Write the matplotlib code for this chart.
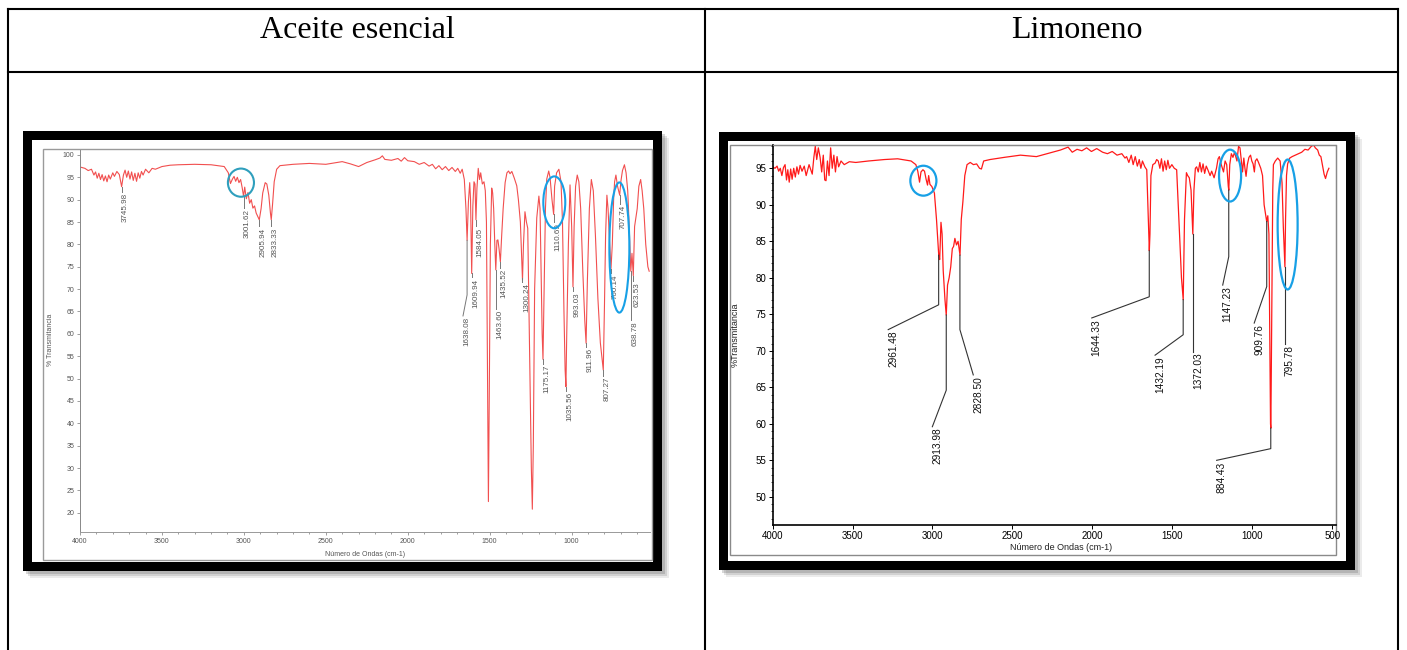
import matplotlib
matplotlib.use("Agg")
import matplotlib.pyplot as plt
from matplotlib import transforms
from matplotlib.lines import Line2D
from matplotlib.patches import Ellipse, Rectangle
from matplotlib.ticker import MultipleLocator

# ---- data ----
TITLES = ["Aceite esencial", "Limoneno"]

ACEITE_WN = [4000, 3970, 3950, 3930, 3915, 3905, 3895, 3885, 3875, 3865, 3855, 3845, 3835,
             3825, 3815, 3800, 3790, 3775, 3760, 3746, 3735, 3725, 3715, 3705, 3695, 3685,
             3675, 3665, 3655, 3645, 3635, 3625, 3615, 3600, 3580, 3560, 3540, 3500, 3450,
             3400, 3300, 3200, 3120, 3095, 3082, 3070, 3060, 3050, 3040, 3030, 3020, 3010,
             3002, 2995, 2985, 2975, 2965, 2955, 2945, 2935, 2925, 2915, 2906, 2895, 2885,
             2870, 2860, 2848, 2838, 2833, 2825, 2815, 2800, 2780, 2700, 2600, 2500, 2450,
             2400, 2350, 2300, 2250, 2200, 2170, 2155, 2140, 2100, 2060, 2040, 2020, 2000,
             1960, 1930, 1900, 1870, 1850, 1830, 1810, 1790, 1770, 1750, 1730, 1710, 1695,
             1680, 1668, 1655, 1645, 1638, 1630, 1622, 1617, 1610, 1603, 1596, 1590, 1584,
             1578, 1570, 1562, 1555, 1545, 1535, 1527, 1520, 1513, 1508, 1503, 1496, 1488,
             1482, 1476, 1469, 1463, 1456, 1450, 1443, 1435, 1427, 1418, 1406, 1395, 1385,
             1376, 1365, 1350, 1335, 1325, 1313, 1300, 1294, 1285, 1276, 1268, 1256,
             1246, 1240, 1234, 1226, 1213, 1200, 1193, 1185, 1180, 1175, 1168, 1160, 1152,
             1140, 1132, 1120, 1110, 1104, 1092, 1078, 1065, 1056, 1047, 1040, 1035, 1030,
             1020, 1010, 1000, 992, 985, 976, 966, 956, 945, 932, 920, 912, 904, 892, 880,
             868, 855, 840, 825, 807, 800, 793, 785, 778, 768, 760, 752, 744, 738, 730, 720,
             707, 700, 690, 678, 668, 658, 650, 639, 632, 624, 616, 600, 590, 579, 570, 560,
             548, 535, 527]
ACEITE_T = [97.3, 97.0, 96.5, 96.8, 95.5, 96.2, 94.8, 95.9, 94.5, 95.6, 94.2, 95.3, 94.0,
            95.5, 94.6, 96.0, 95.2, 96.3, 95.6, 92.9, 95.5, 96.6, 95.0, 96.4, 94.6, 96.2,
            94.3, 95.9, 94.1, 96.0, 94.8, 96.3, 95.5, 96.8, 96.0, 97.0, 96.8, 97.4, 97.7,
            97.8, 97.9, 97.8, 97.4, 96.0, 93.6, 94.6, 95.2, 94.1, 95.0, 93.8, 94.5, 92.6,
            90.7, 92.8, 90.2, 91.6, 89.2, 90.0, 88.1, 88.6, 87.0, 86.2, 85.5, 88.0, 91.5,
            93.8, 93.5, 91.0, 87.0, 85.5, 89.0, 94.0, 96.8, 97.6, 97.9, 98.1, 97.9, 98.2,
            98.5, 98.0, 97.4, 98.3, 98.9, 99.3, 99.8, 99.0, 98.8, 99.2, 98.6, 99.4, 98.7,
            98.5, 97.9, 98.3, 97.5, 97.9, 96.9, 97.6, 96.7, 97.4, 96.5, 97.2, 96.3, 97.0,
            95.9, 96.8, 94.5, 88.0, 80.9, 89.5, 93.8, 90.0, 73.5, 88.5, 94.0, 93.5, 85.5,
            92.5, 97.0, 94.5, 96.0, 93.5, 94.0, 92.0, 85.0, 50.0, 22.5, 45.0, 80.0, 92.6,
            91.5, 88.0, 80.0, 74.3, 80.9, 81.0, 79.0, 76.1, 82.0, 88.0, 93.8, 96.0, 96.4,
            95.8, 96.3, 94.8, 93.1, 90.0, 85.0, 72.0, 80.0, 87.3, 85.0, 83.6, 55.0,
            30.0, 20.8, 35.0, 70.0, 85.9, 90.8, 88.0, 70.0, 60.0, 54.3, 70.0, 88.0, 94.6,
            96.4, 95.0, 90.0, 86.7, 93.0, 96.0, 96.8, 94.0, 85.0, 65.0, 52.0, 48.2, 60.0,
            80.0, 93.3, 84.0, 70.5, 84.0, 93.0, 95.5, 94.0, 88.0, 74.0, 63.0, 57.9, 72.0,
            88.0, 94.5, 92.0, 82.0, 68.0, 58.0, 51.9, 66.0, 82.0, 91.0, 88.0, 80.0, 74.6,
            80.0, 90.0, 94.0, 95.5, 93.0, 91.0, 94.0, 96.5, 97.8, 96.0, 92.0, 85.0, 74.0,
            78.0, 73.0, 84.0, 88.0, 93.0, 94.5, 92.0, 88.0, 80.0, 75.0, 74.0]

LIMO_WN = [4000, 3985, 3972, 3962, 3952, 3942, 3932, 3922, 3913, 3905, 3896, 3887, 3878,
           3868, 3858, 3848, 3838, 3828, 3816, 3802, 3790, 3772, 3752, 3742, 3733, 3724,
           3714, 3703, 3693, 3683, 3674, 3666, 3657, 3647, 3637, 3627, 3617, 3607, 3597,
           3587, 3572, 3552, 3520, 3480, 3400, 3300, 3218, 3134, 3104, 3092, 3081, 3072,
           3060, 3050, 3040, 3031, 3024, 3016, 3004, 2988, 2975, 2961, 2955, 2947, 2940,
           2933, 2922, 2914, 2906, 2896, 2886, 2876, 2868, 2860, 2850, 2840, 2828, 2820,
           2810, 2798, 2784, 2764, 2744, 2724, 2706, 2694, 2680, 2640, 2550, 2450, 2350,
           2300, 2250, 2200, 2152, 2126, 2096, 2066, 2036, 2006, 1973, 1936, 1906, 1876,
           1846, 1816, 1796, 1786, 1772, 1757, 1745, 1732, 1719, 1707, 1697, 1687, 1672,
           1660, 1650, 1644, 1640, 1634, 1622, 1608, 1598, 1588, 1578, 1568, 1558, 1548,
           1538, 1528, 1518, 1503, 1488, 1473, 1463, 1453, 1443, 1432, 1424, 1412, 1404,
           1394, 1383, 1372, 1365, 1356, 1348, 1338, 1328, 1318, 1308, 1298, 1288, 1278,
           1264, 1254, 1239, 1224, 1214, 1206, 1194, 1180, 1170, 1160, 1150, 1147, 1141,
           1131, 1121, 1111, 1096, 1086, 1077, 1069, 1061, 1053, 1046, 1039, 1031, 1021,
           1011, 1003, 995, 987, 981, 971, 961, 947, 936, 926, 916, 910, 903, 896, 890,
           886, 884, 878, 872, 868, 856, 841, 826, 814, 806, 796, 792, 786, 779, 766, 751,
           731, 711, 691, 671, 651, 631, 617, 606, 591, 581, 571, 561, 551, 542, 531, 521]
LIMO_T = [95.2, 95.0, 95.3, 94.6, 95.0, 94.0, 95.1, 95.5, 93.4, 94.8, 93.1, 94.9, 93.5,
          95.0, 93.8, 95.2, 94.2, 95.4, 94.6, 95.3, 94.0, 95.5, 94.2, 96.5, 98.0, 96.2,
          97.8, 96.5, 94.5, 96.8, 93.4, 93.3, 96.0, 94.0, 97.8, 95.0, 96.8, 94.5, 96.6,
          95.2, 96.0, 95.5, 95.9, 95.8, 96.0, 96.2, 96.3, 96.0, 95.5, 94.6, 93.1, 94.5,
          94.8, 94.6, 93.5, 92.7, 94.0, 92.8, 92.5, 91.6, 88.0, 83.1, 82.5, 87.6, 86.0,
          81.0, 77.0, 74.9, 79.0, 80.0, 81.5, 84.0, 84.3, 85.4, 84.5, 85.0, 83.1, 88.0,
          90.4, 94.0, 95.5, 95.8, 95.5, 95.6, 95.0, 94.9, 96.0, 96.2, 96.5, 96.8, 96.6,
          96.9, 97.2, 97.5, 97.9, 97.2, 97.6, 97.4, 97.8, 97.3, 97.7, 97.2, 97.0, 97.3,
          96.8, 97.0, 96.4, 96.6, 95.8, 96.8, 95.5, 96.6, 95.3, 96.2, 95.0, 96.0, 95.2,
          94.8, 88.0, 83.7, 86.0, 94.0, 95.5, 95.7, 96.2, 96.0, 95.0, 96.3, 94.6, 96.0,
          94.8, 96.1, 95.0, 95.5, 95.0, 94.8, 90.0, 85.0, 80.0, 77.0, 88.0, 94.4, 94.0,
          93.7, 92.0, 86.0, 92.0, 95.0, 95.2, 94.5, 95.8, 94.5, 95.6, 94.3, 95.3, 94.8,
          94.0, 94.6, 93.7, 95.0, 96.3, 96.6, 95.5, 94.5, 96.0, 95.5, 92.5, 92.0, 95.5,
          97.0, 96.5, 97.2, 96.0, 98.0, 97.8, 96.2, 94.5, 96.4, 95.0, 93.9, 95.5, 96.5,
          96.8, 96.0, 95.6, 94.5, 96.0, 96.3, 95.8, 95.0, 94.0, 90.0, 88.5, 87.7, 88.5,
          86.0, 70.0, 60.0, 59.4, 75.0, 92.0, 95.5, 96.0, 96.4, 96.0, 93.0, 87.0, 81.5,
          88.0, 94.0, 95.6, 96.4, 96.6, 96.8, 97.0, 97.2, 97.6, 97.5, 98.0, 98.2, 97.8,
          97.5, 96.8, 96.6, 95.4, 94.2, 93.6, 94.5, 95.0]

# peak labels: text, tip of the marker, end of the marker line
ACEITE_LABELS = ["3745.98", "3001.62", "2905.94", "2833.33", "1638.08", "1609.94", "1584.05",
                 "1463.60", "1435.52", "1300.24", "1175.17", "1110.69", "1035.56", "993.03",
                 "911.96", "807.27", "760.14", "707.74", "638.78", "623.53"]
ACEITE_TIP = [92.9, 90.7, 85.5, 85.5, 80.9, 73.5, 85.5, 74.3, 76.1, 72.5, 54.3, 86.7, 48.2,
              70.5, 57.9, 51.9, 74.6, 91.0, 74.0, 73.0]
ACEITE_END = [91.8, 88.1, 84.0, 84.0, 64.0, 72.6, 84.0, 65.6, 74.8, 71.6, 53.3, 85.0, 47.3,
              69.6, 57.1, 50.6, 73.6, 89.0, 63.1, 71.8]

LIMO_LABELS = ["2961.48", "2913.98", "2828.50", "1644.33", "1432.19", "1372.03", "1147.23",
               "909.76", "884.43", "795.78"]
LIMO_TIP = [83.1, 74.9, 83.1, 83.7, 77.0, 86.0, 92.0, 87.7, 59.4, 81.5]
LIMO_BEND = [76.3, 64.6, 72.9, 77.4, 72.2, 69.9, 82.9, 78.8, 56.6, 71.0]
LIMO_TEXT_WN = [3277, 3001, 2745, 2004, 1608, 1372, 1185, 988, 1223, 796]
LIMO_TEXT_T = [72.9, 59.6, 66.7, 74.5, 69.4, 69.9, 79.0, 73.8, 55.0, 71.0]

# blue highlight rings (centre wn, centre %T, width wn, height %T)
ACEITE_RINGS = [(3018, 93.8, 159, 6.3), (1106, 89.4, 134, 11.6), (709, 79.3, 122, 29.1)]
LIMO_RINGS = [(3057, 93.3, 163, 4.1), (1139, 94.0, 138, 7.1), (779, 87.3, 125, 17.8)]

W, H = 1407, 650
plt.rcParams["font.family"] = ["Liberation Sans", "DejaVu Sans"]


def fx(x):
    return x / W


def fy(y):
    return 1 - y / H


def add_rect(fig, x0, y0, x1, y1, **kw):
    r = Rectangle((fx(x0), fy(y1)), (x1 - x0) / W, (y1 - y0) / H,
                  transform=fig.transFigure, **kw)
    fig.add_artist(r)
    return r


def add_axes(fig, x0, y0, x1, y1):
    return fig.add_axes([fx(x0), fy(y1), (x1 - x0) / W, (y1 - y0) / H])


def screenshot_frame(fig, x0, y0, x1, y1):
    # soft shadow, black frame, white inside
    for k, a in [(7, 0.12), (5, 0.18), (3, 0.25)]:
        add_rect(fig, x0 + k, y0 + k, x1 + k, y1 + k, facecolor="#606060", alpha=a,
                 edgecolor="none", zorder=-5)
    add_rect(fig, x0, y0, x1, y1, facecolor="black", edgecolor="none", zorder=-4)
    add_rect(fig, x0 + 9, y0 + 9, x1 - 9, y1 - 9, facecolor="white", edgecolor="none", zorder=-3)


fig = plt.figure(figsize=(W / 100, H / 100), dpi=100)
fig.patch.set_facecolor("white")

# table grid
for xs, ys in [([8, 1398], [9, 9]), ([8, 1398], [72, 72]), ([8, 8], [9, 650]),
               ([705, 705], [9, 650]), ([1398, 1398], [9, 650])]:
    fig.add_artist(Line2D([fx(x) for x in xs], [fy(y) for y in ys], color="black",
                          lw=1.5, transform=fig.transFigure))
fig.text(fx(357), fy(30), TITLES[0], family="Liberation Serif", fontsize=23,
         ha="center", va="center")
fig.text(fx(1077), fy(30), TITLES[1], family="Liberation Serif", fontsize=23,
         ha="center", va="center")

# ---------- left: aceite esencial ----------
screenshot_frame(fig, 23, 131, 662, 571)
add_rect(fig, 43, 149, 652, 560, facecolor="none", edgecolor="#9a9a9a", lw=1.0, zorder=-2)
ax1 = add_axes(fig, 80, 150, 650, 532)
ax1.set_facecolor("none")
ax1.plot(ACEITE_WN, ACEITE_T, color="#f03c3c", lw=0.8, alpha=0.9)
ax1.set_xlim(4000, 522)
ax1.set_ylim(15.7, 101.1)
ax1.xaxis.set_minor_locator(MultipleLocator(100))
ax1.set_xticks([4000, 3500, 3000, 2500, 2000, 1500, 1000])
ax1.set_yticks(range(20, 101, 5))
ax1.tick_params(which="both", labelsize=5, colors="#777", labelcolor="#555", width=0.5,
                length=2.5, pad=1.5)
ax1.tick_params(which="minor", length=1.5)
for s in ["top", "right"]:
    ax1.spines[s].set_visible(False)
ax1.spines["left"].set_color("#888")
ax1.spines["left"].set_linestyle((0, (1, 1)))
ax1.spines["bottom"].set_color("#999")
for sp in ax1.spines.values():
    sp.set_linewidth(0.7)

off1 = transforms.offset_copy(ax1.transData, fig=fig, x=4, y=-1, units="dots")
for lab, tip, end in zip(ACEITE_LABELS, ACEITE_TIP, ACEITE_END):
    wn = float(lab)
    if lab == "1638.08":
        xs, ys = [wn, wn, wn + 25], [tip, 68.7, end]
    else:
        xs, ys = [wn, wn], [tip, end]
    ax1.plot(xs, ys, color="#777", lw=0.7)
    ax1.text(xs[-1], ys[-1], lab, transform=off1, rotation=90, ha="center", va="top",
             fontsize=5.8, color="#555")
ring_cols = ["#2f9fbd", "#17a0e6", "#17a0e6"]
for (cx, cy, w, h), c in zip(ACEITE_RINGS, ring_cols):
    ax1.add_patch(Ellipse((cx, cy), w, h, fill=False, edgecolor=c, lw=1.5, zorder=5))
fig.text(fx(50), fy(340), "% Transmitancia", rotation=90, fontsize=5, color="#555",
         ha="center", va="center")
fig.text(fx(365), fy(554), "Número de Ondas (cm-1)", fontsize=5, color="#555",
         ha="center", va="center")

# ---------- right: limoneno ----------
screenshot_frame(fig, 719, 132, 1355, 570)
add_rect(fig, 730, 145, 1336, 555, facecolor="none", edgecolor="#8a8a8a", lw=1.0, zorder=-2)
ax2 = add_axes(fig, 772.6, 145, 1336, 525)
ax2.set_facecolor("none")
ax2.plot(LIMO_WN, LIMO_T, color="#ff1a1a", lw=0.9)
ax2.set_xlim(4000, 476.5)
ax2.set_ylim(46.14, 98.19)
ax2.set_xticks([4000, 3500, 3000, 2500, 2000, 1500, 1000, 500])
ax2.set_yticks(range(50, 96, 5))
ax2.yaxis.set_minor_locator(MultipleLocator(1))
ax2.tick_params(which="both", labelsize=7, width=0.7, length=3, pad=1.5)
ax2.tick_params(which="minor", length=1.8, width=0.5)
ax2.spines["top"].set_color("#8a8a8a")
ax2.spines["right"].set_color("#8a8a8a")
ax2.spines["left"].set_linewidth(1.2)
ax2.spines["bottom"].set_linewidth(1.2)

off2 = transforms.offset_copy(ax2.transData, fig=fig, x=5, y=-1, units="dots")
for lab, tip, bend, tw, tt in zip(LIMO_LABELS, LIMO_TIP, LIMO_BEND, LIMO_TEXT_WN, LIMO_TEXT_T):
    wn = float(lab)
    ax2.plot([wn, wn, tw], [tip, bend, tt], color="#333", lw=0.8)
    ax2.text(tw, tt, lab, transform=off2, rotation=90, ha="center", va="top",
             fontsize=7.3, color="#111")
for cx, cy, w, h in LIMO_RINGS:
    ax2.add_patch(Ellipse((cx, cy), w, h, fill=False, edgecolor="#17a0e6", lw=1.6, zorder=5))
fig.text(fx(735), fy(335), "%Transmitancia", rotation=90, fontsize=6.5, color="#222",
         ha="center", va="center")
fig.text(fx(1061), fy(548), "Número de Ondas (cm-1)", fontsize=6.5, color="#222",
         ha="center", va="center")

fig.savefig("out.png", dpi=100)
